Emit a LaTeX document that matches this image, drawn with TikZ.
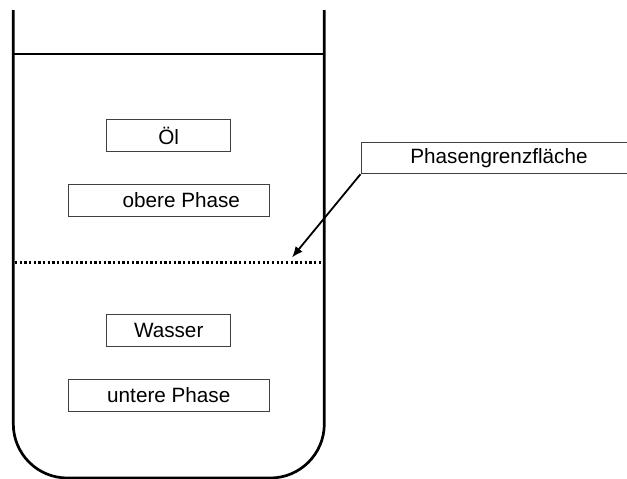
\documentclass[tikz,border=0pt]{standalone}
\usepackage{fontspec}
\setmainfont{Liberation Sans}
\usetikzlibrary{arrows.meta}
\begin{document}
\begin{tikzpicture}[x=1pt,y=-1pt,
  labelbox/.style={draw=black!75, line width=1pt, inner sep=0pt,
    font=\fontsize{20.7}{24}\selectfont},
  wall/.style={draw=black, line width=2.7pt},
  surface/.style={draw=black, line width=2pt},
  boundary/.style={draw=black, line width=2.4pt, dash pattern=on 2.3pt off 2.37pt},
  pointer/.style={draw=black, line width=1.8pt, -{Latex[length=11pt,width=9pt]}}]
\useasboundingbox (0,0) rectangle (627,479);
% vessel
\draw[wall, rounded corners=54pt] (13.3,10) -- (13.3,478) -- (324.3,478) -- (324.3,10);
\coordinate (sl) at (13.3,54);
\coordinate (sr) at (324.3,54);
\draw[surface] (sl) -- (sr);
\coordinate (bl) at (15,262.3);
\coordinate (br) at (323,262.3);
\draw[boundary] (bl) -- (br);
% labels
\node[labelbox, minimum width=124pt, minimum height=32.5pt] (oel) at (168.7,135.6) {Öl};
\node[labelbox, minimum width=201pt, minimum height=32.5pt] (ob) at (168.8,200.3) {\hspace*{25pt}obere Phase};
\node[labelbox, minimum width=124pt, minimum height=32pt] (wa) at (168.7,330) {Wasser};
\node[labelbox, minimum width=201pt, minimum height=32pt] (un) at (168.8,395) {untere Phase};
\node[labelbox, minimum width=276pt, minimum height=31.4pt] (pg) at (499,158) {Phasengrenzfläche};
\coordinate (tip) at (292,257.5);
\draw[pointer] (pg.south west) -- (tip);
\end{tikzpicture}
\end{document}
